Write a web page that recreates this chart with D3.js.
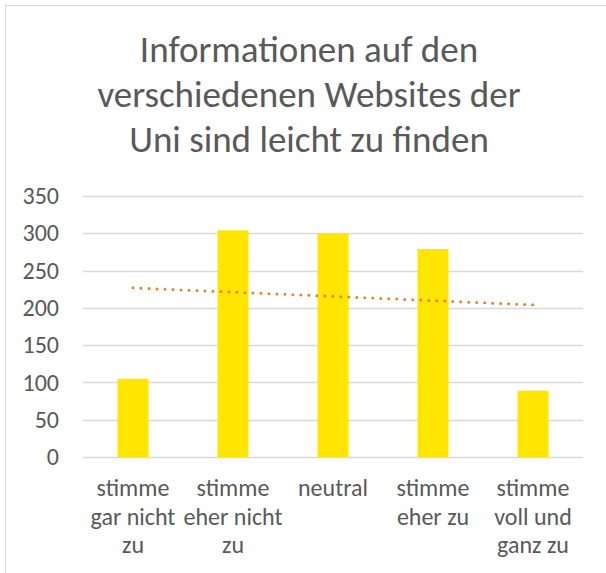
<!DOCTYPE html>
<html>
<head>
<meta charset="utf-8">
<script src="https://cdn.jsdelivr.net/npm/d3@7"></script>
<style>
  html, body { margin: 0; padding: 0; background: #fff; }
  svg { display: block; }
  text { font-family: Carlito, Calibri, Lato, "Open Sans", sans-serif; fill: #595959; }
</style>
</head>
<body>
<script>
// Survey answers and how many respondents gave each one
const categories = [
  "stimme\ngar nicht\nzu",
  "stimme\neher nicht\nzu",
  "neutral",
  "stimme\neher zu",
  "stimme\nvoll und\nganz zu"
];
const counts = [105, 304, 300, 279, 89];
const yTicks = [0, 50, 100, 150, 200, 250, 300, 350];
const titleLines = [
  "Informationen auf den",
  "verschiedenen Websites der",
  "Uni sind leicht zu finden"
];

const W = 606, H = 573;
const margin = { left: 83, right: 23, top: 196, bottom: 116 };

const svg = d3.select("body").append("svg")
  .attr("width", W).attr("height", H);

// chart frame
svg.append("rect")
  .attr("x", 5.5).attr("y", 5.5)
  .attr("width", W + 10).attr("height", H + 10)
  .attr("fill", "#fff").attr("stroke", "#d9d9d9").attr("stroke-width", 1);

// title
svg.append("text")
  .attr("text-anchor", "middle")
  .style("font-size", "37px")
  .selectAll("tspan").data(titleLines).join("tspan")
  .attr("x", 309)
  .attr("y", (d, i) => 62 + i * 45)
  .text(d => d);

const x = d3.scaleBand()
  .domain(categories)
  .range([margin.left, W - margin.right])
  .paddingInner(0.69)
  .paddingOuter(0.345);

const y = d3.scaleLinear()
  .domain([0, 350])
  .range([H - margin.bottom, margin.top]);

// gridlines
svg.append("g")
  .selectAll("line").data(yTicks).join("line")
  .attr("x1", margin.left).attr("x2", W - margin.right)
  .attr("y1", d => Math.round(y(d)) + 0.5).attr("y2", d => Math.round(y(d)) + 0.5)
  .attr("stroke", "#d9d9d9").attr("stroke-width", 1.3);

// y axis labels
const yAxis = svg.append("g")
  .attr("transform", `translate(${margin.left},0)`)
  .call(d3.axisLeft(y).tickValues(yTicks).tickSize(0).tickPadding(24));
yAxis.select(".domain").remove();
yAxis.selectAll("text")
  .style("font-size", "24px")
  .attr("font-family", null)
  .attr("fill", "#595959");

// bars
svg.append("g")
  .selectAll("rect").data(counts).join("rect")
  .attr("x", (d, i) => x(categories[i]))
  .attr("width", x.bandwidth())
  .attr("y", d => y(d))
  .attr("height", d => y(0) - y(d))
  .attr("fill", "#ffe600");

// linear trend line over the category positions 1..n
const n = counts.length;
const xs = d3.range(1, n + 1);
const mx = d3.mean(xs), my = d3.mean(counts);
const slope = d3.sum(xs, (v, i) => (v - mx) * (counts[i] - my)) / d3.sum(xs, v => (v - mx) ** 2);
const intercept = my - slope * mx;
const cx = i => x(categories[i]) + x.bandwidth() / 2;
svg.append("line")
  .attr("x1", cx(0)).attr("y1", y(intercept + slope * 1))
  .attr("x2", cx(n - 1)).attr("y2", y(intercept + slope * n))
  .attr("stroke", "#ed7d31")
  .attr("stroke-width", 3)
  .attr("stroke-linecap", "round")
  .attr("stroke-dasharray", "0 8");

// category labels (multi-line)
const xAxis = svg.append("g")
  .attr("transform", `translate(0,${y(0)})`)
  .call(d3.axisBottom(x).tickSize(0).tickFormat(""));
xAxis.select(".domain").remove();
xAxis.selectAll(".tick").append("text")
  .attr("text-anchor", "middle")
  .style("font-size", "24px")
  .selectAll("tspan").data(d => d.split("\n")).join("tspan")
  .attr("x", 0)
  .attr("y", (d, i) => 39 + i * 28.5)
  .text(d => d);
</script>
</body>
</html>
